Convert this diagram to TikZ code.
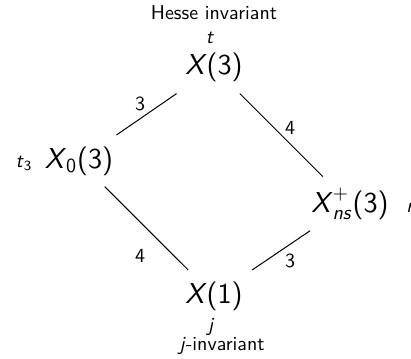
\documentclass[tikz,border=0pt]{standalone}
\usepackage{amsmath}
\newcommand{\vv}[1]{\text{\textit{#1}}}
\begin{document}
\begin{tikzpicture}[x=0.5pt,y=-0.5pt,font=\sffamily,
  main/.style={font=\sffamily\Large,inner sep=5.5pt,anchor=base},
  lbl/.style={font=\sffamily,inner sep=0pt,anchor=base},
  elbl/.style={font=\sffamily,inner sep=0pt},
  conn/.style={draw=black,line width=0.5pt}]
\useasboundingbox (0,0) rectangle (411,358);
\node[lbl] (hesse) at (214,20) {Hesse invariant};
\node[lbl] (tt) at (210,44) {\textit{t}};
\node[main] (x3) at (214,75) {$\vv{X}\text{(3)}$};
\node[lbl] (t3) at (24,167) {$\vv{t}_{\text{3}}$};
\node[main] (x0) at (79,168) {$\vv{X}_{\text{0}}\text{(3)}$};
\node[main] (xns) at (350,212) {$\vv{X}^{\text{+}}_{\vv{ns}}\text{(3)}$};
\node[lbl,anchor=base west] (rr) at (406,212) {\textit{r}};
\node[main] (x1) at (214,303) {$\vv{X}\text{(1)}$};
\node[lbl] (jj) at (211,331) {\textit{j}};
\node[lbl] (jinv) at (222,350) {\textit{j}-invariant};
\draw[conn] (x0) -- (x3);
\draw[conn] (x3) -- (xns);
\draw[conn] (xns) -- (x1);
\draw[conn] (x0) -- (x1);
\node[elbl] (e1) at (140,104) {3};
\node[elbl] (e2) at (290,128) {4};
\node[elbl] (e3) at (140,256) {4};
\node[elbl] (e4) at (290,261) {3};
\end{tikzpicture}
\end{document}
